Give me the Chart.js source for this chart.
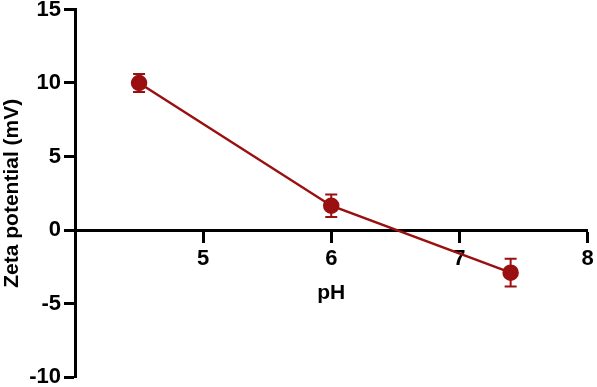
<!DOCTYPE html>
<html>
<head>
<meta charset="utf-8">
<script src="https://cdn.jsdelivr.net/npm/chart.js@4"></script>
<style>
html,body{margin:0;padding:0;background:#fff;}
#wrap{width:597px;height:387px;}
</style>
</head>
<body>
<div id="wrap"><canvas id="c" width="597" height="387"></canvas></div>
<script>
const pHValues = [4.5, 6, 7.4];
const zetaValues = [10.0, 1.65, -2.9];
const zetaErrors = [0.62, 0.77, 0.95];
const xTickValues = [4, 5, 6, 7, 8];
const yTickValues = [-10, -5, 0, 5, 10, 15];

const red = '#9a0f0f';

const errorBars = {
  id: 'errorBars',
  beforeDatasetsDraw(chart) {
    const ctx = chart.ctx;
    const xs = chart.scales.x, ys = chart.scales.y;
    ctx.save();
    ctx.strokeStyle = red;
    ctx.lineWidth = 2;
    pHValues.forEach((p, i) => {
      const x = xs.getPixelForValue(p);
      const yTop = ys.getPixelForValue(zetaValues[i] + zetaErrors[i]);
      const yBot = ys.getPixelForValue(zetaValues[i] - zetaErrors[i]);
      const w = 6;
      ctx.beginPath();
      ctx.moveTo(x, yTop); ctx.lineTo(x, yBot);
      ctx.moveTo(x - w, yTop); ctx.lineTo(x + w, yTop);
      ctx.moveTo(x - w, yBot); ctx.lineTo(x + w, yBot);
      ctx.stroke();
    });
    ctx.restore();
  }
};

const fam = '"Liberation Sans", Arial, sans-serif';
const tickFont = {family: fam, weight: 'bold', size: 22};
const titleFont = {family: fam, weight: 'bold', size: 21};

new Chart(document.getElementById('c'), {
  type: 'line',
  data: {
    datasets: [{
      data: pHValues.map((p, i) => ({x: p, y: zetaValues[i]})),
      borderColor: red,
      backgroundColor: red,
      borderWidth: 2.5,
      pointRadius: 7,
      pointBackgroundColor: red,
      pointBorderColor: red,
      tension: 0,
      clip: false
    }]
  },
  options: {
    responsive: false,
    animation: false,
    devicePixelRatio: 1,
    layout: {padding: {left: 0, right: 8, top: 7, bottom: 10}},
    plugins: {legend: {display: false}, tooltip: {enabled: false}},
    scales: {
      x: {
        type: 'linear',
        position: {y: 0},
        min: 4, max: 8,
        afterBuildTicks(scale) { scale.ticks = xTickValues.map(v => ({value: v})); },
        afterFit(scale) { scale.paddingRight = 8; scale.paddingLeft = 0; },
        ticks: {
          font: tickFont, color: '#000', padding: 5,
          callback: v => (v === 4 ? null : String(v))
        },
        grid: {drawOnChartArea: false, drawTicks: true, tickLength: 11, tickWidth: 3, color: '#000'},
        border: {display: true, width: 3, color: '#000'},
        title: {display: true, text: 'pH', font: titleFont, color: '#000', padding: {top: 3, bottom: 0}}
      },
      y: {
        type: 'linear',
        position: 'left',
        min: -10, max: 15,
        afterBuildTicks(scale) { scale.ticks = yTickValues.map(v => ({value: v})); },
        afterFit(scale) { scale.width = 75; scale.paddingTop = 7; scale.paddingBottom = 7; },
        ticks: {
          font: Object.assign({}, tickFont, {lineHeight: 0.6}), color: '#000', padding: 3,
          callback: v => String(v)
        },
        grid: {drawOnChartArea: false, drawTicks: true, tickLength: 11, tickWidth: 3, color: '#000'},
        border: {display: true, width: 3, color: '#000'},
        title: {display: true, text: 'Zeta potential (mV)', font: titleFont, color: '#000', padding: 0}
      }
    }
  },
  plugins: [errorBars]
});
</script>
</body>
</html>
